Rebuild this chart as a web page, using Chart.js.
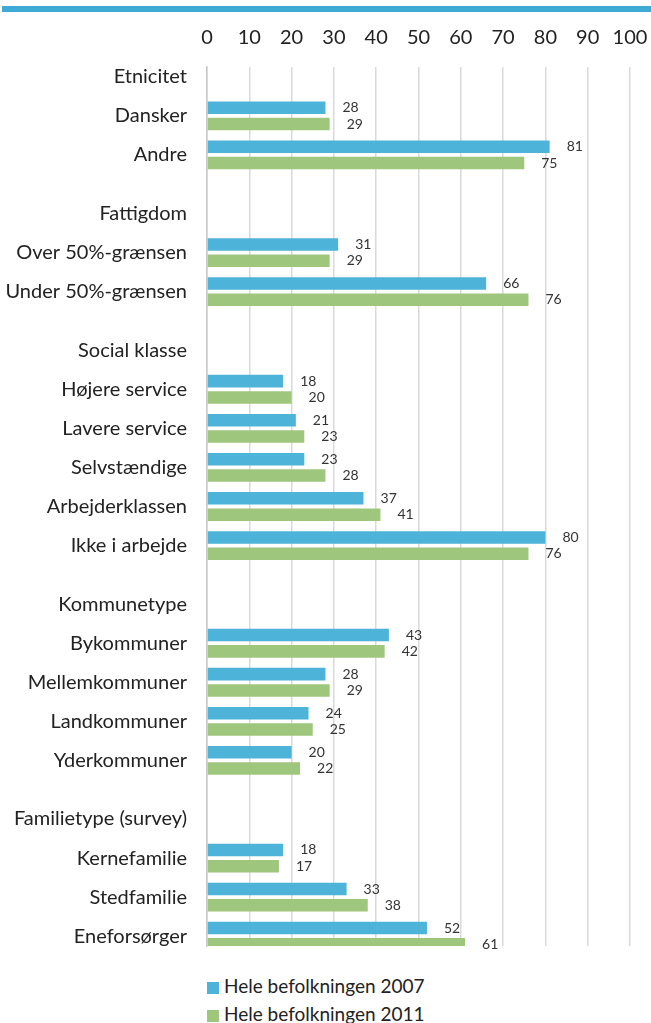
<!DOCTYPE html>
<html>
<head>
<meta charset="utf-8">
<script src="https://cdn.jsdelivr.net/npm/chart.js@4"></script>
<style>
    body { margin: 0; background: #fff; font-family: Lato, "Open Sans", sans-serif; }
    #wrap { position: relative; width: 651px; height: 1023px; overflow: hidden; }
    #topband { position: absolute; left: 2px; right: 0; top: 6px; height: 6px; background: #3eaad6; }
    #chartbox { position: absolute; left: 0; top: 0; width: 651px; height: 960px; }
    .legend { position: absolute; left: 207px; font-size: 19px; color: #222; }
    .legend span.box { display: inline-block; width: 12px; height: 12px; margin-right: 5px; vertical-align: -1px; }
</style>
</head>
<body>
<div id="wrap">
    <div id="chartbox"><canvas id="barChart"></canvas></div>
    <div id="topband"></div>
    <div class="legend" id="leg1" style="top: 974px;"></div>
    <div class="legend" id="leg2" style="top: 1002px;"></div>
</div>
<script>
// Data
const groupTitles = ['Etnicitet', 'Fattigdom', 'Social klasse', 'Kommunetype', 'Familietype (survey)'];
const groupItems = [
    ['Dansker', 'Andre'],
    ['Over 50%-grænsen', 'Under 50%-grænsen'],
    ['Højere service', 'Lavere service', 'Selvstændige', 'Arbejderklassen', 'Ikke i arbejde'],
    ['Bykommuner', 'Mellemkommuner', 'Landkommuner', 'Yderkommuner'],
    ['Kernefamilie', 'Stedfamilie', 'Eneforsørger']
];
const values2007 = [28, 81, 31, 66, 18, 21, 23, 37, 80, 43, 28, 24, 20, 18, 33, 52];
const values2011 = [29, 75, 29, 76, 20, 23, 28, 41, 76, 42, 29, 25, 22, 17, 38, 61];
const seriesNames = ['Hele befolkningen 2007', 'Hele befolkningen 2011'];
const seriesColors = ['#4eb3d8', '#9fc67d'];

// Build half-row category list: header, then items with spacer rows between
const labels = [];
const data2007 = [];
const data2011 = [];
let k = 0;
groupTitles.forEach((title, g) => {
    labels.push(title); data2007.push(null); data2011.push(null);
    groupItems[g].forEach(item => {
        labels.push(''); data2007.push(null); data2011.push(null);
        labels.push(item); data2007.push(values2007[k]); data2011.push(values2011[k]);
        k++;
    });
    if (g < groupTitles.length - 1) {
        labels.push('', ''); data2007.push(null, null); data2011.push(null, null);
    }
});

// Value labels next to the bar ends
const valueLabels = {
    id: 'valueLabels',
    afterDatasetsDraw(chart) {
        const ctx = chart.ctx;
        ctx.save();
        ctx.font = '14px Lato';
        ctx.fillStyle = '#333';
        ctx.textAlign = 'left';
        ctx.textBaseline = 'middle';
        chart.data.datasets.forEach((ds, i) => {
            chart.getDatasetMeta(i).data.forEach((bar, j) => {
                if (ds.data[j] == null) return;
                ctx.fillText(ds.data[j], bar.x + 17, bar.y);
            });
        });
        ctx.restore();
    }
};

const ctx = document.getElementById('barChart').getContext('2d');
new Chart(ctx, {
    type: 'bar',
    data: {
        labels: labels,
        datasets: [
            { label: seriesNames[0], data: data2007, backgroundColor: seriesColors[0] },
            { label: seriesNames[1], data: data2011, backgroundColor: seriesColors[1] }
        ]
    },
    options: {
        indexAxis: 'y',
        responsive: true,
        maintainAspectRatio: false,
        animation: false,
        categoryPercentage: 1.67,
        barPercentage: 0.77,
        layout: { padding: { top: 0, right: 21, bottom: 14, left: 0 } },
        plugins: {
            legend: { display: false },
            tooltip: { enabled: false }
        },
        scales: {
            x: {
                position: 'top',
                min: 0,
                max: 100,
                ticks: { stepSize: 10, color: '#222', font: { family: 'Lato', size: 20 }, padding: 17 },
                grid: { color: '#d9d9d9', lineWidth: 1.5, drawTicks: false },
                border: { display: false },
                afterFit: (scale) => {
                    scale.height = 67;
                    scale.paddingLeft = 0;
                    scale.paddingRight = 0;
                }
            },
            y: {
                ticks: { autoSkip: false, color: '#222', font: { family: 'Lato', size: 20 }, padding: 12 },
                grid: { display: false },
                border: { color: '#c8c8c8', width: 1.5 },
                afterFit: (scale) => {
                    scale.width = 207;
                    scale.paddingTop = 0;
                    scale.paddingBottom = 0;
                }
            }
        }
    },
    plugins: [valueLabels]
});

// Legend below the chart
['leg1', 'leg2'].forEach((id, i) => {
    document.getElementById(id).innerHTML =
        `<span class="box" style="background:${seriesColors[i]}"></span>${seriesNames[i]}`;
});
</script>
</body>
</html>
